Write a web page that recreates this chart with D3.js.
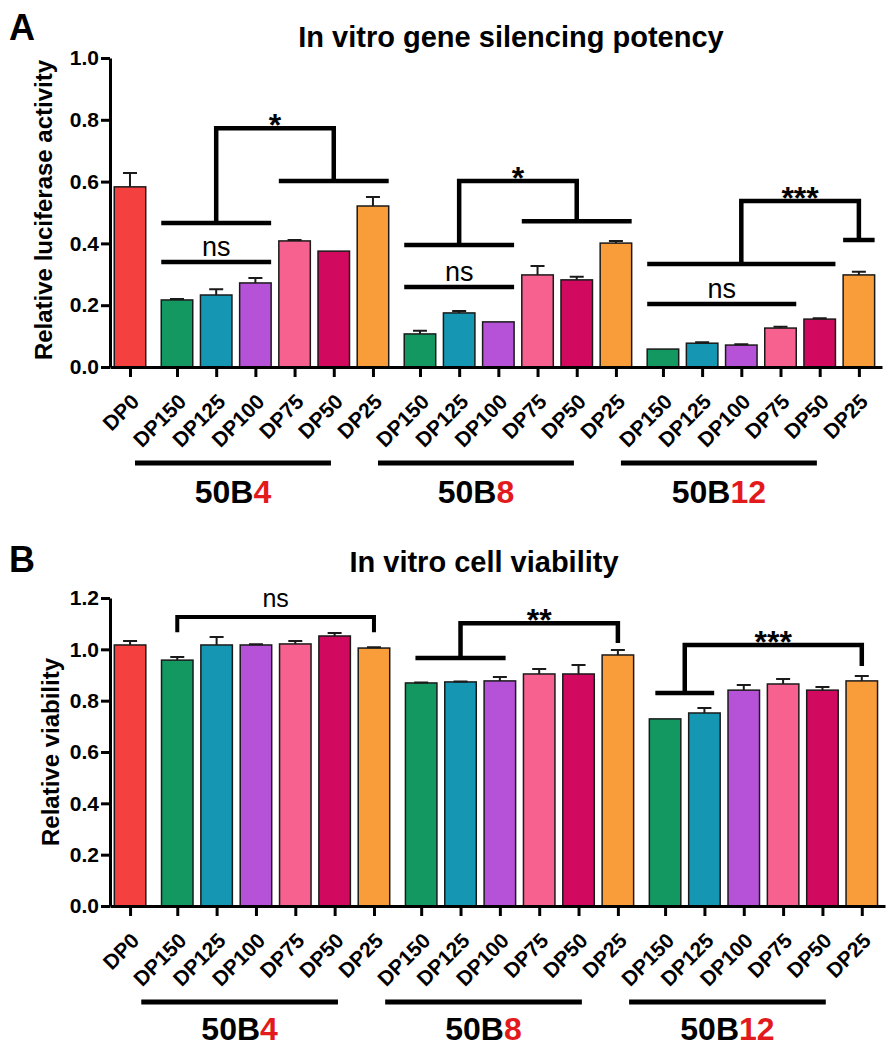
<!DOCTYPE html>
<html><head><meta charset="utf-8">
<script src="https://cdn.jsdelivr.net/npm/d3@7"></script>
<style>
body{margin:0;background:#fff}
svg{display:block}
text{font-family:"Liberation Sans",Arial,Helvetica,sans-serif}
</style>
</head><body>
<svg id="c" width="896" height="1050"></svg>
<script>
// ---------------- data ----------------
const groupNames = ["50B", "50B", "50B"];
const groupSuffix = ["4", "8", "12"];
const dpLevels = ["DP150", "DP125", "DP100", "DP75", "DP50", "DP25"];
const categories = ["DP0"].concat(dpLevels, dpLevels, dpLevels);

const luciferase = [0.583,
  0.217, 0.233, 0.272, 0.408, 0.375, 0.521,
  0.107, 0.175, 0.146, 0.298, 0.282, 0.401,
  0.058, 0.077, 0.071, 0.126, 0.155, 0.298];
const luciferaseErr = [0.045,
  0.003, 0.019, 0.016, 0.003, 0.000, 0.029,
  0.010, 0.006, 0.000, 0.029, 0.010, 0.007,
  0.000, 0.003, 0.003, 0.004, 0.003, 0.010];

const viability = [1.017,
  0.958, 1.017, 1.017, 1.021, 1.052, 1.005,
  0.869, 0.873, 0.877, 0.904, 0.904, 0.978,
  0.729, 0.752, 0.841, 0.865, 0.841, 0.877];
const viabilityErr = [0.015,
  0.012, 0.031, 0.003, 0.011, 0.012, 0.003,
  0.002, 0.002, 0.015, 0.019, 0.035, 0.019,
  0.000, 0.019, 0.020, 0.019, 0.012, 0.019];

const ticksA = [0, 0.2, 0.4, 0.6, 0.8, 1.0];
const ticksB = [0, 0.2, 0.4, 0.6, 0.8, 1.0, 1.2];

// significance annotations (bar indices and y values in data units)
const sigA = [
  {ns: [1, 3, 0.340], left: [1, 3, 0.466], right: [4, 6, 0.602], top: 0.773, label: "*"},
  {ns: [7, 9, 0.259], left: [7, 9, 0.395], right: [10, 12, 0.472], top: 0.602, label: "*"},
  {ns: [13, 16, 0.204], left: [13, 17, 0.333], right: [18, 18, 0.411], top: 0.537, label: "***"}
];
const sigBns = {from: 1, to: 6, y: 1.126, arm: 1.067, label: "ns"};
const sigB = [
  {line: [7, 9, 0.966], top: 1.102, toBar: 12, arm: 1.025, label: "**"},
  {line: [13, 14, 0.830], top: 1.017, toBar: 18, arm: 0.935, label: "***"}
];

// ---------------- style ----------------
const barColors = ["#F4413F", "#139862", "#1597B3", "#B552D8", "#F7618F", "#D10A5F", "#F99D3A"];
const RED = "#E31A1C";
const svg = d3.select("#c");

// slot positions: DP0, then 3 groups of 6 with a gap between groups
const GAP = 0.2;
const slots = categories.map((c, i) => i === 0 ? 0 : 1.2 + Math.floor((i - 1) / 6) * (6 + GAP) + (i - 1) % 6);
const colorIdx = categories.map((c, i) => i === 0 ? 0 : ((i - 1) % 6) + 1);

function panel(p) {
  const g = svg.append("g");
  const x = d3.scaleLinear().domain([-0.51, 19.19]).range([110, p.xEnd]);
  const y = d3.scaleLinear().domain([0, p.yMax]).range([p.y0, p.yTop]);
  const bw = 31.5;

  // bars
  g.selectAll("rect.bar").data(p.values).join("rect").attr("class", "bar")
    .attr("x", (d, i) => x(slots[i]) - bw / 2)
    .attr("y", d => y(d))
    .attr("width", bw)
    .attr("height", d => y(0) - y(d))
    .attr("fill", (d, i) => barColors[colorIdx[i]])
    .attr("stroke", "#1a1a1a").attr("stroke-width", 1.5);

  // error bars (upper only)
  const eg = g.append("g").attr("stroke", "#1a1a1a").attr("stroke-width", 2).attr("fill", "none");
  p.values.forEach((v, i) => {
    const e = p.errors[i];
    if (e <= 0) return;
    const cx = x(slots[i]);
    eg.append("path").attr("d", `M${cx},${y(v)}V${y(v + e)}M${cx - 7},${y(v + e)}H${cx + 7}`);
  });

  // y axis
  const ya = g.append("g").attr("transform", "translate(110,0)")
    .call(d3.axisLeft(y).tickValues(p.yTicks).tickFormat(d3.format(".1f")).tickSize(9).tickSizeOuter(0).tickPadding(2));
  ya.selectAll("path,line").attr("stroke", "#000").attr("stroke-width", 3);
  ya.selectAll("text").attr("font-family", '"Liberation Sans",Arial,sans-serif')
    .attr("font-size", 21).attr("font-weight", "bold").attr("fill", "#000");

  // x axis
  const xa = g.append("g").attr("transform", `translate(0,${p.y0})`)
    .call(d3.axisBottom(x).tickValues(slots).tickFormat((d, i) => categories[i]).tickSize(10).tickSizeOuter(0));
  xa.selectAll("path,line").attr("stroke", "#000").attr("stroke-width", 3);
  xa.selectAll("text").attr("x", 0).attr("y", 0).attr("dy", null)
    .attr("text-anchor", "end")
    .attr("transform", "translate(10,36) rotate(-45)")
    .attr("font-family", '"Liberation Sans",Arial,sans-serif')
    .attr("font-size", 21).attr("font-weight", "bold").attr("fill", "#000");

  // group lines and labels
  for (let k = 0; k < 3; k++) {
    const i1 = 1 + k * 6, i2 = 6 + k * 6;
    const xa1 = x(slots[i1]) - p.groupShift, xa2 = x(slots[i2]) - p.groupShift;
    g.append("line").attr("x1", xa1).attr("x2", xa2).attr("y1", p.groupLineY).attr("y2", p.groupLineY)
      .attr("stroke", "#000").attr("stroke-width", 5);
    const t = g.append("text").attr("x", (xa1 + xa2) / 2).attr("y", p.groupLabelY)
      .attr("text-anchor", "middle").attr("font-size", 32).attr("font-weight", "bold");
    t.append("tspan").attr("fill", "#000").text(groupNames[k]);
    t.append("tspan").attr("fill", RED).text(groupSuffix[k]);
  }

  // title, letter, y title
  g.append("text").attr("x", p.titleX).attr("y", p.titleY).attr("text-anchor", "middle")
    .attr("font-size", 29).attr("font-weight", "bold").text(p.title);
  g.append("text").attr("x", 9).attr("y", p.letterY)
    .attr("font-size", 36).attr("font-weight", "bold").text(p.letter);
  g.append("text").attr("transform", `translate(${p.yTitleX},${p.yTitleY}) rotate(-90)`)
    .attr("text-anchor", "middle").attr("font-size", 24).attr("font-weight", "bold").text(p.yTitle);

  return {g, x, y, bw};
}

// ---------------- panel A ----------------
const A = panel({
  values: luciferase, errors: luciferaseErr, yMax: 1.0, y0: 367, yTop: 58, yTicks: ticksA, xEnd: 882,
  groupLineY: 463, groupLabelY: 503, groupShift: 42,
  title: "In vitro gene silencing potency", titleX: 511, titleY: 47, letter: "A", letterY: 40,
  yTitle: "Relative luciferase activity", yTitleX: 52, yTitleY: 210
});
{
  const {g, x, y, bw} = A;
  const sg = g.append("g");
  const edge = (i1, i2) => [x(slots[i1]) - bw / 2, x(slots[i2]) + bw / 2];
  sigA.forEach(s => {
    const [n1, n2] = edge(s.ns[0], s.ns[1]);
    sg.append("line").attr("x1", n1).attr("x2", n2).attr("y1", y(s.ns[2])).attr("y2", y(s.ns[2]))
      .attr("stroke", "#000").attr("stroke-width", 4.5);
    sg.append("text").attr("x", (n1 + n2) / 2).attr("y", y(s.ns[2]) - 6).attr("text-anchor", "middle")
      .attr("font-size", 27).text("ns");
    const [l1, l2] = edge(s.left[0], s.left[1]);
    const [r1, r2] = edge(s.right[0], s.right[1]);
    sg.append("line").attr("x1", l1).attr("x2", l2).attr("y1", y(s.left[2])).attr("y2", y(s.left[2]))
      .attr("stroke", "#000").attr("stroke-width", 4.5);
    sg.append("line").attr("x1", r1).attr("x2", r2).attr("y1", y(s.right[2])).attr("y2", y(s.right[2]))
      .attr("stroke", "#000").attr("stroke-width", 4.5);
    const cl = (l1 + l2) / 2, cr = (r1 + r2) / 2;
    sg.append("path").attr("d", `M${cl},${y(s.left[2])}V${y(s.top)}H${cr}V${y(s.right[2])}`)
      .attr("fill", "none").attr("stroke", "#000").attr("stroke-width", 4.5);
    sg.append("text").attr("x", (cl + cr) / 2).attr("y", y(s.top) + 8).attr("text-anchor", "middle")
      .attr("font-size", 32).attr("font-weight", "bold").text(s.label);
  });
}

// ---------------- panel B ----------------
const B = panel({
  values: viability, errors: viabilityErr, yMax: 1.2, y0: 906, yTop: 598, yTicks: ticksB, xEnd: 885,
  groupLineY: 1002, groupLabelY: 1040, groupShift: 36,
  title: "In vitro cell viability", titleX: 484, titleY: 572, letter: "B", letterY: 572,
  yTitle: "Relative viability", yTitleX: 59, yTitleY: 752
});
{
  const {g, x, y, bw} = B;
  const sg = g.append("g");
  const c1 = x(slots[sigBns.from]), c2 = x(slots[sigBns.to]);
  sg.append("path").attr("d", `M${c1},${y(sigBns.arm)}V${y(sigBns.y)}H${c2}V${y(sigBns.arm)}`)
    .attr("fill", "none").attr("stroke", "#000").attr("stroke-width", 4);
  sg.append("text").attr("x", (c1 + c2) / 2).attr("y", y(sigBns.y) - 10).attr("text-anchor", "middle")
    .attr("font-size", 25).text(sigBns.label);
  const insets = [10, 6];
  sigB.forEach((s, k) => {
    const a1 = x(slots[s.line[0]]) - bw / 2 + insets[k], a2 = x(slots[s.line[1]]) + bw / 2 - insets[k];
    sg.append("line").attr("x1", a1).attr("x2", a2).attr("y1", y(s.line[2])).attr("y2", y(s.line[2]))
      .attr("stroke", "#000").attr("stroke-width", 4.5);
    const cl = (a1 + a2) / 2, cr = x(slots[s.toBar]);
    sg.append("path").attr("d", `M${cl},${y(s.line[2])}V${y(s.top)}H${cr}V${y(s.arm)}`)
      .attr("fill", "none").attr("stroke", "#000").attr("stroke-width", 4.5);
    sg.append("text").attr("x", (cl + cr) / 2).attr("y", y(s.top) + 8).attr("text-anchor", "middle")
      .attr("font-size", 32).attr("font-weight", "bold").text(s.label);
  });
}
</script>
</body></html>
